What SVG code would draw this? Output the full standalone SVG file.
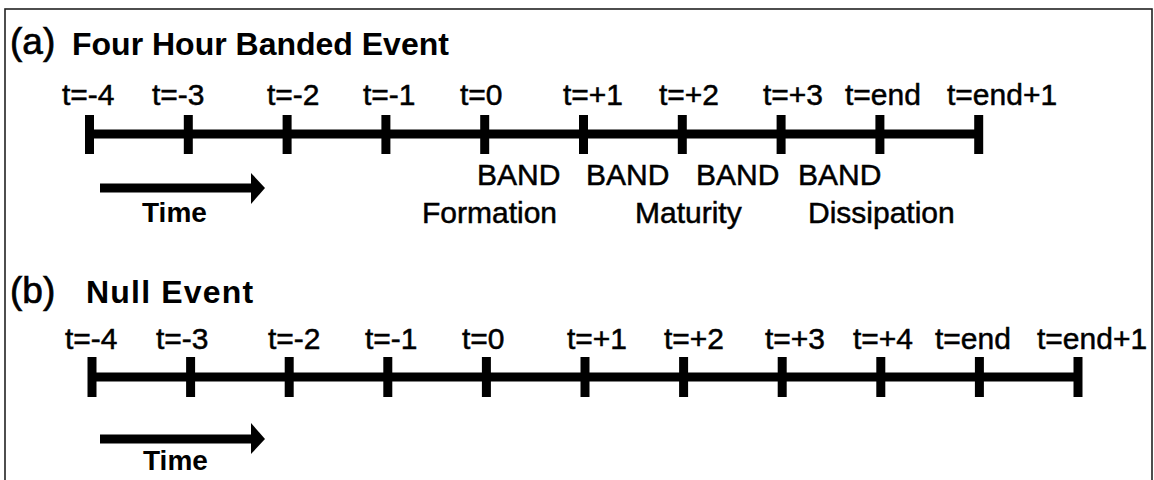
<svg xmlns="http://www.w3.org/2000/svg" width="1154" height="480" viewBox="0 0 1154 480">
<style>
.lbl{font-family:"Liberation Sans",Arial,sans-serif;font-size:30px;fill:#000;stroke:#000;stroke-width:0.5}
.ttl{font-family:"Liberation Sans",Arial,sans-serif;font-size:32px;font-weight:bold;fill:#000}
.tag{font-family:"Liberation Sans",Arial,sans-serif;font-size:37px;fill:#000;stroke:#000;stroke-width:0.7}
.time{font-family:"Liberation Sans",Arial,sans-serif;font-size:28px;font-weight:bold;fill:#000}
.axis{stroke:#000;stroke-width:9;fill:none}
.tick{stroke:#000;stroke-width:9}
.shaft{stroke:#000;stroke-width:9}
</style>
<rect x="5" y="9" width="1147" height="490" fill="#fff" stroke="#222" stroke-width="1.6"/>
<g id="title-a">
<text class="tag" x="10" y="54">(a)</text>
<text class="ttl" x="72" y="55">Four Hour Banded Event</text>
</g>
<g id="title-b">
<text class="tag" x="10" y="303">(b)</text>
<text class="ttl" x="86" y="303" font-size="35" letter-spacing="1.2">Null Event</text>
</g>
<g id="connectors">
<line class="axis" x1="89.5" y1="134" x2="978.7" y2="134"/>
<line class="tick" x1="89.5" y1="115" x2="89.5" y2="154"/>
<line class="tick" x1="188.3" y1="115" x2="188.3" y2="154"/>
<line class="tick" x1="287.1" y1="115" x2="287.1" y2="154"/>
<line class="tick" x1="385.9" y1="115" x2="385.9" y2="154"/>
<line class="tick" x1="484.7" y1="115" x2="484.7" y2="154"/>
<line class="tick" x1="583.5" y1="115" x2="583.5" y2="154"/>
<line class="tick" x1="682.3" y1="115" x2="682.3" y2="154"/>
<line class="tick" x1="781.1" y1="115" x2="781.1" y2="154"/>
<line class="tick" x1="879.9" y1="115" x2="879.9" y2="154"/>
<line class="tick" x1="978.7" y1="115" x2="978.7" y2="154"/>
<line class="shaft" x1="100" y1="188" x2="253" y2="188"/>
<polygon points="251,173 265,188 251,204" fill="#000"/>
<line class="axis" x1="92" y1="377" x2="1078" y2="377"/>
<line class="tick" x1="92" y1="357" x2="92" y2="397"/>
<line class="tick" x1="190.6" y1="357" x2="190.6" y2="397"/>
<line class="tick" x1="289.2" y1="357" x2="289.2" y2="397"/>
<line class="tick" x1="387.8" y1="357" x2="387.8" y2="397"/>
<line class="tick" x1="486.4" y1="357" x2="486.4" y2="397"/>
<line class="tick" x1="585" y1="357" x2="585" y2="397"/>
<line class="tick" x1="683.6" y1="357" x2="683.6" y2="397"/>
<line class="tick" x1="782.2" y1="357" x2="782.2" y2="397"/>
<line class="tick" x1="880.8" y1="357" x2="880.8" y2="397"/>
<line class="tick" x1="979.4" y1="357" x2="979.4" y2="397"/>
<line class="tick" x1="1078" y1="357" x2="1078" y2="397"/>
<line class="shaft" x1="100" y1="439" x2="253" y2="439"/>
<polygon points="251,423 265,439 251,454" fill="#000"/>
</g>
<g id="labels-a">
<text class="lbl" x="62" y="105">t=-4</text>
<text class="lbl" x="152" y="105">t=-3</text>
<text class="lbl" x="267" y="105">t=-2</text>
<text class="lbl" x="363" y="105">t=-1</text>
<text class="lbl" x="460" y="105">t=0</text>
<text class="lbl" x="563" y="105">t=+1</text>
<text class="lbl" x="659" y="105">t=+2</text>
<text class="lbl" x="763" y="105">t=+3</text>
<text class="lbl" x="845" y="105">t=end</text>
<text class="lbl" x="947" y="105">t=end+1</text>
</g>
<g id="bands-a">
<text class="lbl" x="477" y="185">BAND</text>
<text class="lbl" x="586" y="185">BAND</text>
<text class="lbl" x="696" y="185">BAND</text>
<text class="lbl" x="798" y="185">BAND</text>
<text class="lbl" x="422" y="223">Formation</text>
<text class="lbl" x="635" y="223">Maturity</text>
<text class="lbl" x="808" y="223">Dissipation</text>
</g>
<g id="time-a"><text class="time" x="142" y="222">Time</text></g>
<g id="labels-b">
<text class="lbl" x="65" y="349">t=-4</text>
<text class="lbl" x="156" y="349">t=-3</text>
<text class="lbl" x="268" y="349">t=-2</text>
<text class="lbl" x="365" y="349">t=-1</text>
<text class="lbl" x="462" y="349">t=0</text>
<text class="lbl" x="567" y="349">t=+1</text>
<text class="lbl" x="664" y="349">t=+2</text>
<text class="lbl" x="765" y="349">t=+3</text>
<text class="lbl" x="853" y="349">t=+4</text>
<text class="lbl" x="935" y="349">t=end</text>
<text class="lbl" x="1037" y="349">t=end+1</text>
</g>
<g id="time-b"><text class="time" x="143" y="470">Time</text></g>
</svg>
